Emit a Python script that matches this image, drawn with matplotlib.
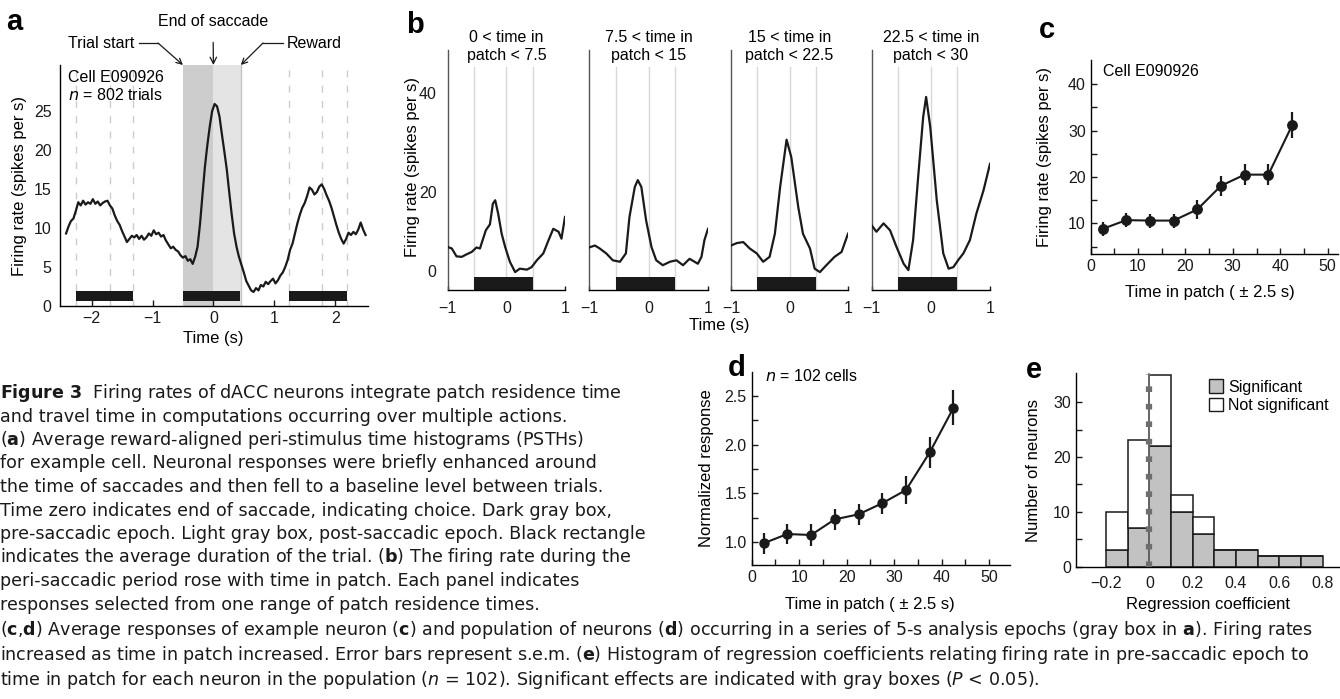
import numpy as np
import matplotlib
matplotlib.use('Agg')
import matplotlib.pyplot as plt
from matplotlib.patches import Patch

plt.rcParams['font.family'] = ['Liberation Sans', 'DejaVu Sans']
plt.rcParams['mathtext.fontset'] = 'custom'
plt.rcParams['mathtext.rm'] = 'DejaVu Sans'
plt.rcParams['mathtext.it'] = 'DejaVu Sans:italic'
plt.rcParams['mathtext.bf'] = 'DejaVu Sans:bold'
plt.rcParams['axes.linewidth'] = 1.0

# ---- data ----
# panel a: PSTH of example cell (spikes per s), 0.04 s steps from -2.42 s
a_rate = [9.3, 10.2, 10.9, 11.2, 12.2, 13.3, 12.9, 13.5, 13.0, 13.3, 13.1, 13.7, 13.1, 13.4,
          12.9, 13.2, 13.4, 13.5, 12.9, 12.5, 11.6, 10.9, 10.4, 9.6, 8.9, 8.2, 8.6, 9.0, 8.8,
          9.1, 8.6, 9.0, 8.5, 8.8, 9.3, 9.0, 9.7, 9.2, 9.4, 8.9, 9.1, 8.4, 7.9, 7.4, 7.6, 7.2,
          7.0, 6.5, 6.2, 6.4, 5.8, 6.0, 5.4, 6.3, 7.6, 10.5, 14.2, 17.8, 20.6, 23.0, 25.0, 25.9,
          25.6, 24.3, 22.0, 19.8, 17.5, 14.6, 11.8, 9.3, 7.6, 6.3, 5.3, 4.3, 3.2, 2.6, 2.0, 1.8,
          2.3, 2.0, 2.7, 2.5, 3.1, 2.8, 3.2, 3.5, 2.9, 3.3, 3.9, 4.3, 5.0, 5.9, 7.2, 8.0, 9.3,
          10.6, 11.7, 12.6, 13.2, 14.1, 15.2, 14.9, 14.3, 14.6, 15.3, 15.6, 15.0, 14.2, 13.5,
          12.6, 11.5, 10.4, 9.4, 8.6, 8.0, 8.6, 9.4, 9.1, 9.5, 9.2, 9.8, 10.7, 9.8, 9.1]
a_time = np.round(np.arange(-2.42, 2.51, 0.04), 2)[:len(a_rate)]
a_trial_bars = [(-2.26, -1.32), (-0.5, 0.44), (1.25, 2.2)]
a_event_lines = [-2.25, -1.70, -1.32, 1.25, 1.78, 2.20]

# panel b: PSTHs split by time in patch
b_titles = ['0 < time in\npatch < 7.5', '7.5 < time in\npatch < 15',
            '15 < time in\npatch < 22.5', '22.5 < time in\npatch < 30']
b_time = [
    [-1.00, -0.93, -0.85, -0.76, -0.68, -0.59, -0.51, -0.45, -0.35, -0.28, -0.23, -0.19, -0.14,
     -0.08, -0.02, 0.06, 0.15, 0.23, 0.35, 0.43, 0.52, 0.63, 0.72, 0.80, 0.89, 0.94, 1.00],
    [-1.00, -0.90, -0.82, -0.71, -0.60, -0.48, -0.38, -0.32, -0.23, -0.18, -0.12, -0.04, 0.05,
     0.13, 0.24, 0.36, 0.47, 0.58, 0.69, 0.83, 0.89, 0.94, 1.00],
    [-1.00, -0.90, -0.79, -0.68, -0.56, -0.45, -0.34, -0.25, -0.16, -0.05, 0.03, 0.15, 0.23,
     0.35, 0.43, 0.52, 0.63, 0.77, 0.89, 1.00],
    [-1.00, -0.92, -0.80, -0.69, -0.58, -0.46, -0.38, -0.30, -0.21, -0.13, -0.08, -0.01, 0.10,
     0.21, 0.30, 0.38, 0.46, 0.55, 0.66, 0.77, 0.89, 1.00],
]
b_rate = [
    [8.8, 8.5, 6.9, 6.8, 7.3, 7.8, 8.7, 8.5, 12.2, 13.4, 17.6, 18.3, 15.6, 11.5, 8.8, 5.8, 3.7,
     4.4, 4.2, 4.7, 6.1, 7.5, 10.2, 12.5, 11.9, 10.5, 14.9],
    [8.7, 9.1, 8.5, 7.5, 6.1, 5.8, 7.5, 14.9, 21.0, 22.4, 21.0, 14.2, 8.8, 6.1, 5.1, 5.8, 6.1,
     5.1, 6.4, 5.4, 6.8, 10.2, 12.5],
    [9.1, 9.6, 9.8, 8.5, 7.5, 5.8, 6.8, 11.5, 21.0, 30.6, 27.1, 16.9, 11.5, 8.5, 4.4, 3.7, 5.1,
     6.8, 7.8, 11.5],
    [13.2, 11.9, 13.6, 12.2, 8.8, 5.4, 4.1, 10.2, 23.7, 35.2, 39.3, 33.2, 18.3, 7.5, 4.4, 4.7,
     6.1, 7.5, 10.2, 15.6, 20.3, 25.7],
]

# panel c: example neuron, pre-saccadic epoch
c_patch = [2.5, 7.5, 12.5, 17.5, 22.5, 27.5, 32.5, 37.5, 42.5]
c_rate = [8.8, 10.7, 10.6, 10.6, 13.0, 18.1, 20.5, 20.5, 31.1]
c_sem = [1.5, 1.5, 1.5, 1.5, 2.1, 2.2, 2.3, 2.3, 2.8]

# panel d: population, normalized
d_patch = [2.5, 7.5, 12.5, 17.5, 22.5, 27.5, 32.5, 37.5, 42.5]
d_resp = [0.99, 1.085, 1.075, 1.235, 1.286, 1.40, 1.535, 1.92, 2.376]
d_sem = [0.107, 0.107, 0.11, 0.107, 0.107, 0.107, 0.14, 0.16, 0.18]

# panel e: histogram of regression coefficients
e_bin_left = [-0.2, -0.1, 0.0, 0.1, 0.2, 0.3, 0.4, 0.5, 0.6, 0.7]
e_signif = [3, 7, 22, 10, 6, 3, 3, 2, 2, 2]
e_not_signif = [7, 16, 13, 3, 3, 0, 0, 0, 0, 0]

caption_top = [
    r'$\mathbf{Figure\ 3}$  Firing rates of dACC neurons integrate patch residence time',
    'and travel time in computations occurring over multiple actions.',
    r'($\mathbf{a}$) Average reward-aligned peri-stimulus time histograms (PSTHs)',
    'for example cell. Neuronal responses were briefly enhanced around',
    'the time of saccades and then fell to a baseline level between trials.',
    'Time zero indicates end of saccade, indicating choice. Dark gray box,',
    'pre-saccadic epoch. Light gray box, post-saccadic epoch. Black rectangle',
    r'indicates the average duration of the trial. ($\mathbf{b}$) The firing rate during the',
    'peri-saccadic period rose with time in patch. Each panel indicates',
    'responses selected from one range of patch residence times.',
]
caption_bottom = [
    r'($\mathbf{c}$,$\mathbf{d}$) Average responses of example neuron ($\mathbf{c}$) and population of neurons '
    r'($\mathbf{d}$) occurring in a series of 5-s analysis epochs (gray box in $\mathbf{a}$). Firing rates',
    r'increased as time in patch increased. Error bars represent s.e.m. ($\mathbf{e}$) Histogram of '
    'regression coefficients relating firing rate in pre-saccadic epoch to',
    r'time in patch for each neuron in the population ($\mathit{n}$ = 102). Significant effects are '
    r'indicated with gray boxes ($\mathit{P}$ < 0.05).',
]

W, H = 1340, 699
INK = '#1a1a1a'
FS = 11.5


def rect(x0, y0, x1, y1):
    return [x0 / W, 1 - y1 / H, (x1 - x0) / W, (y1 - y0) / H]


def fx(x):
    return x / W


def fy(y):
    return 1 - y / H


def clean(ax):
    ax.spines['top'].set_visible(False)
    ax.spines['right'].set_visible(False)
    ax.tick_params(labelsize=FS, direction='in', length=4, width=1, colors=INK)


fig = plt.figure(figsize=(13.4, 6.99), dpi=100)

# ---- panel a ----
ax = fig.add_axes(rect(60, 65, 368, 306))
clean(ax)
ax.axvspan(-0.5, 0, color='#cdcdcd', lw=0, zorder=0)
ax.axvspan(0, 0.45, color='#e4e4e4', lw=0, zorder=0)
ax.axvline(0.45, color='#c4c4c4', lw=1, zorder=0.2)
for x in a_event_lines:
    ax.axvline(x, color='#cccccc', lw=1, ls=(0, (5, 6)), zorder=0.5)
for s, e in a_trial_bars:
    ax.barh(1.3, e - s, left=s, height=1.3, color=INK, zorder=2)
ax.plot(a_time, a_rate, color=INK, lw=1.6, zorder=3)
ax.set_xlim(-2.52, 2.54)
ax.set_ylim(0, 30.9)
ax.set_xticks([-2, -1, 0, 1, 2])
ax.set_yticks([0, 5, 10, 15, 20, 25])
ax.tick_params(axis='y', length=0, pad=6)
top = ax.get_ylim()[1]
ax.annotate('End of saccade', xy=(0, top), xytext=(fx(213), fy(21)), textcoords='figure fraction',
            ha='center', va='center', fontsize=FS, annotation_clip=False,
            arrowprops=dict(arrowstyle='->', color=INK, lw=0.9, shrinkA=8, shrinkB=0))
ax.annotate('', xy=(-0.5, top), xytext=(fx(158), fy(43)), textcoords='figure fraction',
            annotation_clip=False, arrowprops=dict(arrowstyle='->', color=INK, lw=0.9, shrinkA=0, shrinkB=0))
ax.annotate('', xy=(0.45, top), xytext=(fx(263), fy(43)), textcoords='figure fraction',
            annotation_clip=False, arrowprops=dict(arrowstyle='->', color=INK, lw=0.9, shrinkA=0, shrinkB=0))
fig.add_artist(plt.Line2D([fx(139), fx(158)], [fy(43), fy(43)], color=INK, lw=0.9))
fig.add_artist(plt.Line2D([fx(263), fx(283)], [fy(43), fy(43)], color=INK, lw=0.9))
fig.text(fx(134), fy(43), 'Trial start', ha='right', va='center', fontsize=FS)
fig.text(fx(287), fy(43), 'Reward', ha='left', va='center', fontsize=FS)
fig.text(fx(68), fy(77), 'Cell E090926', ha='left', va='center', fontsize=FS)
fig.text(fx(68), fy(95), r'$\mathit{n}$ = 802 trials', ha='left', va='center', fontsize=FS)
fig.text(fx(20), fy(186), 'Firing rate (spikes per s)', rotation=90, ha='center', va='center', fontsize=12)
fig.text(fx(213), fy(339), 'Time (s)', ha='center', va='center', fontsize=12)
fig.text(fx(14), fy(22), 'a', ha='center', va='center', fontsize=21, fontweight='bold')

# ---- panel b ----
b_x = [(447.7, 565), (589, 708), (731, 848), (871.7, 990)]
for i, (x0, x1) in enumerate(b_x):
    ax = fig.add_axes(rect(x0, 50, x1, 290.3))
    clean(ax)
    ax.spines['left'].set_color('#555555')
    ax.set_xlim(-1, 1)
    ax.set_ylim(0, 48.84)
    for x in [-0.55, 0, 0.45]:
        ax.axvline(x, ymax=0.93, color='#d8d8d8', lw=1, zorder=0)
    ax.barh(1.35, 1.0, left=-0.55, height=2.7, color=INK, zorder=2)
    ax.plot(b_time[i], b_rate[i], color=INK, lw=1.6, zorder=3)
    ax.set_xticks([-1, 0, 1])
    ax.tick_params(axis='x', length=3, pad=8)
    if i == 0:
        ax.set_yticks([4, 20, 40])
        ax.set_yticklabels(['0', '20', '40'])
        ax.tick_params(axis='y', length=0, pad=8)
    else:
        ax.set_yticks([])
    ax.text(0, 1.014, b_titles[i], transform=ax.get_xaxis_transform(), ha='center', va='center',
            fontsize=FS, linespacing=1.25)
fig.text(fx(412), fy(167), 'Firing rate (spikes per s)', rotation=90, ha='center', va='center', fontsize=12)
fig.text(fx(719), fy(326), 'Time (s)', ha='center', va='center', fontsize=12)
fig.text(fx(415), fy(25), 'b', ha='center', va='center', fontsize=21, fontweight='bold')

# ---- panel c ----
ax = fig.add_axes(rect(1090.7, 60, 1338, 254))
clean(ax)
ax.errorbar(c_patch, c_rate, yerr=c_sem, fmt='-o', color=INK, ms=6.8, lw=1.5, elinewidth=1.6, capsize=0)
ax.set_xlim(0, 52.2)
ax.set_ylim(3.4, 45.2)
ax.set_xticks(range(0, 55, 5))
ax.set_xticklabels([str(v) if v % 10 == 0 else '' for v in range(0, 55, 5)])
ax.set_yticks(range(5, 45, 5))
ax.set_yticklabels([str(v) if v % 10 == 0 else '' for v in range(5, 45, 5)])
fig.text(fx(1103), fy(71), 'Cell E090926', ha='left', va='center', fontsize=FS)
fig.text(fx(1045), fy(157), 'Firing rate (spikes per s)', rotation=90, ha='center', va='center', fontsize=12)
fig.text(fx(1210), fy(293), 'Time in patch ( ± 2.5 s)', ha='center', va='center', fontsize=12)
fig.text(fx(1047), fy(30), 'c', ha='center', va='center', fontsize=21, fontweight='bold')

# ---- panel d ----
ax = fig.add_axes(rect(751.7, 371.7, 1010, 565.3))
clean(ax)
ax.errorbar(d_patch, d_resp, yerr=d_sem, fmt='-o', color=INK, ms=6.5, lw=1.5, elinewidth=1.6, capsize=0)
ax.set_xlim(0, 54.4)
ax.set_ylim(0.765, 2.745)
ax.set_xticks(range(0, 55, 5))
ax.set_xticklabels([str(v) if v % 10 == 0 else '' for v in range(0, 55, 5)])
d_yt = [1.0, 1.25, 1.5, 1.75, 2.0, 2.25, 2.5]
ax.set_yticks(d_yt)
ax.set_yticklabels(['%.1f' % v if (v * 2) % 1 == 0 else '' for v in d_yt])
fig.text(fx(765), fy(376), r'$\mathit{n}$ = 102 cells', ha='left', va='center', fontsize=FS)
fig.text(fx(707), fy(468), 'Normalized response', rotation=90, ha='center', va='center', fontsize=12)
fig.text(fx(870), fy(605), 'Time in patch ( ± 2.5 s)', ha='center', va='center', fontsize=12)
fig.text(fx(737), fy(368), 'd', ha='center', va='center', fontsize=21, fontweight='bold')

# ---- panel e ----
ax = fig.add_axes(rect(1075.7, 373, 1340, 566.7))
clean(ax)
ax.bar(e_bin_left, e_signif, width=0.1, align='edge', color='#c2c2c2', edgecolor=INK, lw=1.1, zorder=2)
ax.bar(e_bin_left, e_not_signif, width=0.1, bottom=e_signif, align='edge', color='white',
       edgecolor=INK, lw=1.1, zorder=2)
ax.axvline(0, ymax=0.995, color='#6e6e6e', lw=1.2, zorder=3)
ax.axvline(0, ymax=0.995, color='#6e6e6e', lw=4.5, dashes=(0.9, 1.9), zorder=3)
ax.set_xlim(-0.34, 0.88)
ax.set_ylim(0, 35.3)
e_xt = [-0.2, 0, 0.2, 0.4, 0.6, 0.8]
ax.set_xticks(e_xt)
ax.set_xticklabels(['\u22120.2', '0', '0.2', '0.4', '0.6', '0.8'])
ax.tick_params(axis='x', length=0, pad=7)
ax.set_yticks(range(0, 35, 5))
ax.set_yticklabels([str(v) if v % 10 == 0 else '' for v in range(0, 35, 5)])
handles = [Patch(facecolor='#c2c2c2', edgecolor=INK, lw=1), Patch(facecolor='white', edgecolor=INK, lw=1)]
ax.legend(handles, ['Significant', 'Not significant'], loc='upper left', bbox_to_anchor=(0.48, 1.0),
          frameon=False, fontsize=FS, handlelength=0.9, handleheight=0.9, handletextpad=0.3,
          labelspacing=0.2, borderaxespad=0)
fig.text(fx(1033), fy(470), 'Number of neurons', rotation=90, ha='center', va='center', fontsize=12)
fig.text(fx(1208), fy(605), 'Regression coefficient', ha='center', va='center', fontsize=12)
fig.text(fx(1034), fy(370), 'e', ha='center', va='center', fontsize=21, fontweight='bold')

# ---- caption ----
CFS = 12.6
for k, line in enumerate(caption_top):
    fig.text(0, fy(393 + 23.5 * k), line, ha='left', va='center', fontsize=CFS, color=INK,
             family='DejaVu Sans')
for k, line in enumerate(caption_bottom):
    fig.text(0, fy(630 + 25 * k), line, ha='left', va='center', fontsize=CFS, color=INK,
             family='DejaVu Sans')

fig.savefig('out.png', dpi=100)
